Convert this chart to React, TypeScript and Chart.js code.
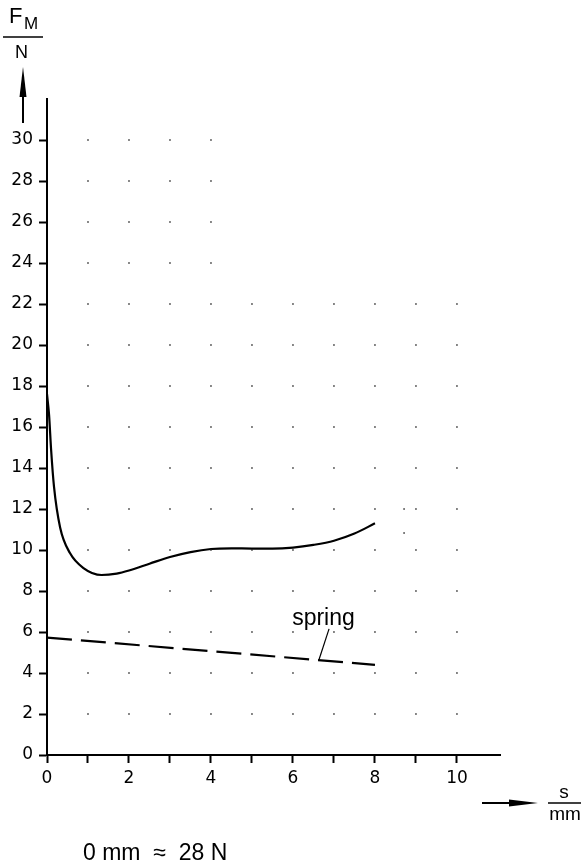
import { useEffect, useRef } from 'react';
import { Chart, registerables } from 'chart.js';

Chart.register(...registerables);

// Main force curve F_M(s)
const curveX = [0, 0.05, 0.1, 0.17, 0.32, 0.56, 0.89, 1.33, 1.7, 2.0, 2.5, 3.0, 3.5, 4.0, 4.5, 5.0, 5.5, 6.0, 6.5, 7.0, 7.5, 8.0];
const curveY = [17.6, 16.6, 14.9, 13.1, 11.1, 9.85, 9.12, 8.78, 8.85, 9.0, 9.33, 9.66, 9.9, 10.05, 10.08, 10.07, 10.07, 10.12, 10.25, 10.45, 10.8, 11.3];

// Spring line
const springX = [0, 8];
const springY = [5.73, 4.4];

// Dot grid
const upperDotCols = [1, 2, 3, 4];
const upperDotRows = [24, 26, 28, 30];
const lowerDotCols = [1, 2, 3, 4, 5, 6, 7, 8, 9, 10];
const lowerDotRows = [2, 4, 6, 8, 10, 12, 14, 16, 18, 20, 22];
const strayDotX = [8.71, 8.71];
const strayDotY = [12.0, 10.83];

// Axes
const xMin = 0;
const xMax = 11.05;
const yMin = 0;
const yMax = 32;
const xTickValues = [0, 1, 2, 3, 4, 5, 6, 7, 8, 9, 10];
const xLabelValues = [0, 2, 4, 6, 8, 10];
const yTickValues = [0, 2, 4, 6, 8, 10, 12, 14, 16, 18, 20, 22, 24, 26, 28, 30];

const springLabel = 'spring';
const footnote = '0 mm  \u2248  28 N';

export default function App() {
  const ref = useRef<HTMLCanvasElement | null>(null);

  useEffect(() => {
    const canvas = ref.current;
    if (!canvas) return;

    const dots: { x: number; y: number }[] = [];
    upperDotRows.forEach((y) => upperDotCols.forEach((x) => dots.push({ x, y })));
    lowerDotRows.forEach((y) => lowerDotCols.forEach((x) => dots.push({ x, y })));
    const stray = strayDotX.map((x, i) => ({ x, y: strayDotY[i] }));
    const curve = curveX.map((x, i) => ({ x, y: curveY[i] }));
    const spring = springX.map((x, i) => ({ x, y: springY[i] }));

    const annot = {
      id: 'annot',
      afterDraw(chart: any) {
        const ctx = chart.ctx as CanvasRenderingContext2D;
        const xs = chart.scales.x;
        const ys = chart.scales.y;
        ctx.save();
        ctx.fillStyle = '#000';
        ctx.strokeStyle = '#000';
        ctx.textBaseline = 'alphabetic';

        // Top-left y label F_M / N
        ctx.font = '22px "Liberation Sans"';
        ctx.textAlign = 'left';
        ctx.fillText('F', 9, 23);
        ctx.font = '17px "Liberation Sans"';
        ctx.fillText('M', 24, 29);
        ctx.lineWidth = 1.5;
        ctx.beginPath();
        ctx.moveTo(3, 37);
        ctx.lineTo(43, 37);
        ctx.stroke();
        ctx.font = '18px "Liberation Sans"';
        ctx.textAlign = 'center';
        ctx.fillText('N', 21.5, 58);
        // up arrow
        ctx.lineWidth = 2;
        ctx.beginPath();
        ctx.moveTo(23, 123);
        ctx.lineTo(23, 92);
        ctx.stroke();
        ctx.beginPath();
        ctx.moveTo(23, 67);
        ctx.lineTo(19.5, 97);
        ctx.lineTo(26.5, 97);
        ctx.closePath();
        ctx.fill();

        // x label arrow and s/mm
        ctx.lineWidth = 2;
        ctx.beginPath();
        ctx.moveTo(482, 803);
        ctx.lineTo(512, 803);
        ctx.stroke();
        ctx.beginPath();
        ctx.moveTo(538, 803);
        ctx.lineTo(509, 799.5);
        ctx.lineTo(509, 806.5);
        ctx.closePath();
        ctx.fill();
        ctx.font = '19px "Liberation Sans"';
        ctx.textAlign = 'center';
        ctx.fillText('s', 564, 798);
        ctx.lineWidth = 1.5;
        ctx.beginPath();
        ctx.moveTo(548, 803);
        ctx.lineTo(581, 803);
        ctx.stroke();
        ctx.fillText('mm', 565, 820);

        // spring label and leader
        ctx.font = '23px "Liberation Sans"';
        ctx.textAlign = 'left';
        ctx.fillText(springLabel, xs.getPixelForValue(5.98), ys.getPixelForValue(6.34));
        ctx.lineWidth = 1.2;
        ctx.beginPath();
        ctx.moveTo(xs.getPixelForValue(6.88), ys.getPixelForValue(6.15));
        ctx.lineTo(xs.getPixelForValue(6.63), ys.getPixelForValue(4.62));
        ctx.stroke();

        // footnote
        ctx.font = '23px "Liberation Sans"';
        ctx.textAlign = 'left';
        ctx.fillText(footnote, 83, 860);
        ctx.restore();
      },
    };

    const chart = new Chart(canvas, {
      type: 'scatter',
      data: {
        datasets: [
          {
            data: dots,
            showLine: false,
            pointRadius: 1,
            pointStyle: 'rect',
            backgroundColor: '#222',
            borderWidth: 0,
          },
          {
            data: stray,
            showLine: false,
            pointRadius: 1,
            pointStyle: 'rect',
            backgroundColor: '#222',
            borderWidth: 0,
          },
          {
            data: curve,
            showLine: true,
            borderColor: '#000',
            borderWidth: 2.2,
            pointRadius: 0,
            cubicInterpolationMode: 'monotone',
            fill: false,
          },
          {
            data: spring,
            showLine: true,
            borderColor: '#000',
            borderWidth: 2.2,
            borderDash: [25, 9],
            pointRadius: 0,
            fill: false,
          },
        ],
      },
      options: {
        animation: false,
        responsive: false,
        maintainAspectRatio: false,
        events: [],
        layout: { padding: { left: 0, top: 99, right: 84, bottom: 0 } },
        plugins: {
          legend: { display: false },
          tooltip: { enabled: false },
        },
        scales: {
          x: {
            type: 'linear',
            min: xMin,
            max: xMax,
            afterBuildTicks: (scale: any) => {
              scale.ticks = xTickValues.map((v) => ({ value: v }));
            },
            afterFit: (scale: any) => {
              scale.height = 111;
            },
            grid: {
              display: true,
              drawOnChartArea: false,
              drawTicks: true,
              tickLength: 8,
              tickWidth: 2,
              tickColor: '#000',
            },
            border: { display: true, color: '#000', width: 2 },
            ticks: {
              autoSkip: false,
              maxRotation: 0,
              padding: 5,
              color: '#000',
              font: { family: '"DejaVu Sans"', size: 17 },
              callback: (v: any) => (xLabelValues.includes(Number(v)) ? String(v) : ''),
            },
          },
          y: {
            type: 'linear',
            min: yMin,
            max: yMax,
            afterBuildTicks: (scale: any) => {
              scale.ticks = yTickValues.map((v) => ({ value: v }));
            },
            afterFit: (scale: any) => {
              scale.width = 47;
            },
            grid: {
              display: true,
              drawOnChartArea: false,
              drawTicks: true,
              tickLength: 8,
              tickWidth: 2,
              tickColor: '#000',
            },
            border: { display: true, color: '#000', width: 2 },
            ticks: {
              autoSkip: false,
              padding: 6,
              color: '#000',
              font: { family: '"DejaVu Sans"', size: 17 },
              callback: (v: any) => String(v),
            },
          },
        },
      },
      plugins: [annot],
    });

    return () => chart.destroy();
  }, []);

  return (
    <div style={{ position: 'absolute', left: 0, top: 0, width: 584, height: 866, background: '#fff' }}>
      <canvas ref={ref} width={584} height={866} style={{ width: 584, height: 866, display: 'block' }} />
    </div>
  );
}
